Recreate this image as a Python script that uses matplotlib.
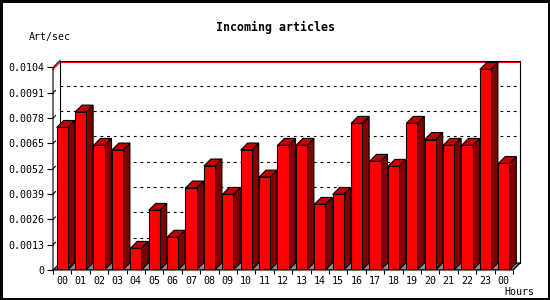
import matplotlib
matplotlib.use("Agg")
import matplotlib.pyplot as plt
from matplotlib.patches import Polygon
import numpy as np

# hourly incoming rate (articles per second)
hours = ["00", "01", "02", "03", "04", "05", "06", "07", "08", "09", "10", "11",
         "12", "13", "14", "15", "16", "17", "18", "19", "20", "21", "22", "23", "00"]
art_sec = [0.00732, 0.00811, 0.0064, 0.00616, 0.00111, 0.00306, 0.00168, 0.00421,
           0.00534, 0.00388, 0.00616, 0.00477, 0.0064, 0.0064, 0.00337, 0.00388,
           0.00753, 0.00558, 0.00532, 0.00753, 0.0067, 0.0064, 0.0064, 0.0103, 0.00547]
y_ticks = [0, 0.0013, 0.0026, 0.0039, 0.0052, 0.0065, 0.0078, 0.0091, 0.0104]
y_labels = ["0", "0.0013", "0.0026", "0.0039", "0.0052", "0.0065", "0.0078", "0.0091", "0.0104"]

n = len(art_sec)
ymax = y_ticks[-1]
dx = 0.38          # depth offset in slots
dy = ymax * 7 / 202.7   # depth offset in data units
half = 0.3
LW = 0.8

FRONT = "#ff0000"
SIDE = "#800000"
TOP = "#c00000"
FLOOR = "#909090"
MONO = "DejaVu Sans Mono"

fig = plt.figure(figsize=(5.5, 3), dpi=100)
fig.patch.set_facecolor("white")
fig.patch.set_edgecolor("black")
fig.patch.set_linewidth(2.5)

ax = fig.add_axes([53 / 550, 30 / 300, 467 / 550, 209.5 / 300])
ax.set_xlim(-0.5, n - 0.5 + dx)
ax.set_ylim(0, ymax + dy)
for s in ax.spines.values():
    s.set_visible(False)
ax.patch.set_visible(False)

x0, x1 = -0.5, n - 0.5
lk = dict(color="black", lw=LW, clip_on=False)

# floor
ax.add_patch(Polygon([(x0, 0), (x1, 0), (x1 + dx, dy), (x0 + dx, dy)],
                     closed=True, facecolor=FLOOR, edgecolor="black", lw=LW, zorder=1))

# back wall grid
for t in y_ticks[1:-1]:
    ax.plot([x0 + dx, x1 + dx], [t + dy, t + dy], color="black", lw=LW,
            linestyle=(0, (2.5, 3.5)), zorder=1)
    ax.plot([x0, x0 + dx * 0.35], [t, t + dy * 0.35], color="black", lw=LW, zorder=1)

# max line
m = max(art_sec)
ax.plot([x0, x0 + dx, x1 + dx], [m, m + dy, m + dy], color="red", lw=LW, zorder=2, clip_on=False)

# back wall frame
ax.plot([x0 + dx, x0 + dx, x1 + dx, x1 + dx], [dy, ymax + dy, ymax + dy, dy], zorder=2.5, **lk)
# front axis + connectors
ax.plot([x0, x0, x0 + dx], [0, ymax, ymax + dy], zorder=5, **lk)
ax.plot([x0, x1, x1 + dx], [0, 0, dy], zorder=5, **lk)

# 3d bars
for i, v in enumerate(art_sec):
    l, r = i - half, i + half
    ax.add_patch(Polygon([(r, 0), (r + dx, dy), (r + dx, v + dy), (r, v)],
                         facecolor=SIDE, edgecolor="black", lw=LW, zorder=3))
    ax.add_patch(Polygon([(l, v), (r, v), (r + dx, v + dy), (l + dx, v + dy)],
                         facecolor=TOP, edgecolor="black", lw=LW, zorder=3))
    ax.add_patch(Polygon([(l, 0), (r, 0), (r, v), (l, v)],
                         facecolor=FRONT, edgecolor="black", lw=LW, zorder=4))

ax.set_xticks(np.arange(n))
ax.set_xticklabels(hours, fontfamily=MONO, fontsize=7.2)
ax.set_xticks(np.arange(n + 1) - 0.5, minor=True)
ax.tick_params(axis="x", which="major", length=0, pad=4)
ax.tick_params(axis="x", which="minor", length=3, width=LW)
ax.set_yticks(y_ticks)
ax.set_yticklabels(y_labels, fontfamily=MONO, fontsize=7.2)
ax.tick_params(axis="y", length=4, width=LW, pad=2)

fig.text(0.5, 1 - 27 / 300, "Incoming articles", ha="center", va="center",
         fontfamily=MONO, fontweight="bold", fontsize=8.4)
fig.text(29 / 550, 1 - 37 / 300, "Art/sec", ha="left", va="center",
         fontfamily=MONO, fontsize=7.2)
fig.text(534 / 550, 1 - 292 / 300, "Hours", ha="right", va="center",
         fontfamily=MONO, fontsize=7.2)

fig.savefig("out.png", dpi=100, facecolor=fig.get_facecolor(), edgecolor=fig.get_edgecolor())
